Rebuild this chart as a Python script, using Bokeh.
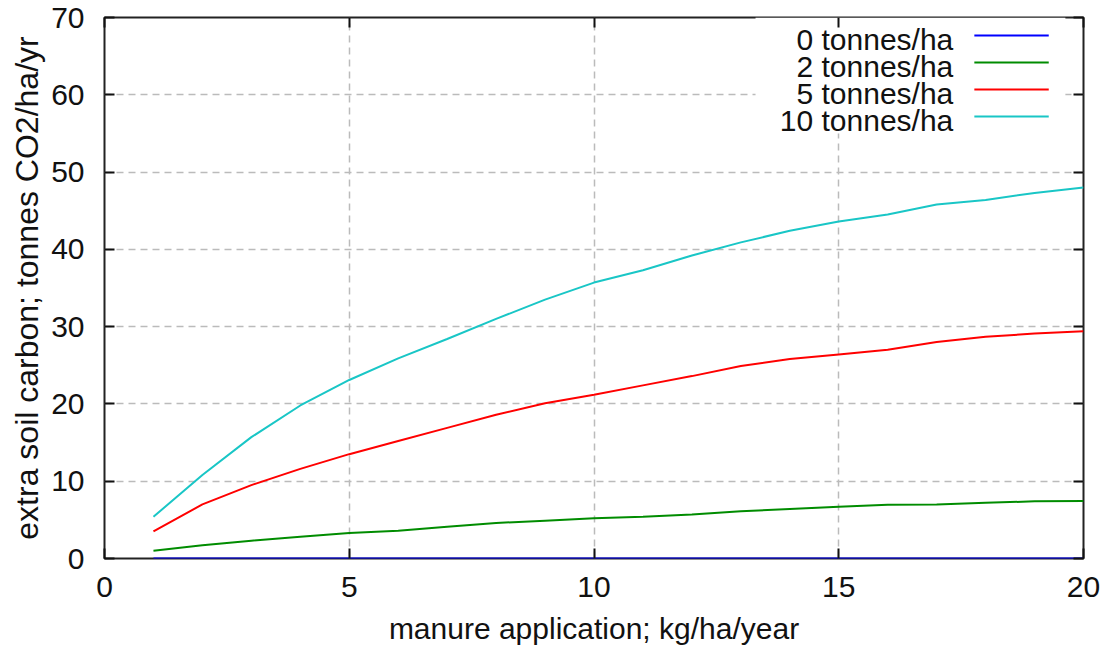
from bokeh.plotting import figure
from bokeh.models import Range1d, LinearAxis, FixedTicker
from bokeh.core.properties import value
from bokeh.embed import file_html
from bokeh.resources import INLINE

# ---- data ----
manure = [1, 2, 3, 4, 5, 6, 7, 8, 9, 10, 11, 12, 13, 14, 15, 16, 17, 18, 19, 20]
t0 = [0, 0, 0, 0, 0, 0, 0, 0, 0, 0, 0, 0, 0, 0, 0, 0, 0, 0, 0, 0]
t2 = [1.0, 1.7, 2.3, 2.8, 3.3, 3.6, 4.1, 4.6, 4.9, 5.2, 5.4, 5.7, 6.1, 6.4, 6.7, 6.95, 7.0, 7.2, 7.4, 7.45]
t5 = [3.5, 7.0, 9.5, 11.6, 13.5, 15.2, 16.9, 18.6, 20.1, 21.2, 22.4, 23.6, 24.9, 25.8, 26.4, 27.0, 28.0, 28.7, 29.1, 29.4]
t10 = [5.4, 10.8, 15.7, 19.8, 23.1, 25.9, 28.4, 31.0, 33.5, 35.7, 37.3, 39.2, 40.9, 42.4, 43.6, 44.5, 45.8, 46.4, 47.3, 48.0]
series_names = ["0 tonnes/ha", "2 tonnes/ha", "5 tonnes/ha", "10 tonnes/ha"]
series_values = [t0, t2, t5, t10]
colors = ["#0000ff", "#008c00", "#ff0000", "#19c6c6"]
x_ticks = [0, 5, 10, 15, 20]
y_ticks = [0, 10, 20, 30, 40, 50, 60, 70]

FONT = "Liberation Sans"
FS = "30px"

p = figure(width=1105, height=650, output_backend="svg", toolbar_location=None,
           x_range=Range1d(0, 20), y_range=Range1d(0, 70),
           min_border_left=104, min_border_right=22, min_border_top=17, min_border_bottom=92,
           x_axis_label="manure application; kg/ha/year",
           y_axis_label="extra soil carbon; tonnes CO2/ha/yr")
p.background_fill_color = "white"
p.border_fill_color = "white"
p.outline_line_color = "#222222"
p.outline_line_width = 2

for ax in (p.xaxis[0], p.yaxis[0]):
    ax.axis_line_color = None
    ax.major_tick_in = 10
    ax.major_tick_out = 0
    ax.major_tick_line_color = "#111111"
    ax.major_tick_line_width = 2
    ax.minor_tick_line_color = None
    ax.major_label_text_font = FONT
    ax.major_label_text_font_size = FS
    ax.major_label_text_color = "#111111"
    ax.axis_label_text_font = FONT
    ax.axis_label_text_font_size = FS
    ax.axis_label_text_font_style = "normal"
    ax.axis_label_text_color = "#111111"

p.yaxis[0].axis_label_text_font_size = "32px"
p.xaxis[0].ticker = FixedTicker(ticks=x_ticks)
p.yaxis[0].ticker = FixedTicker(ticks=y_ticks)
p.xaxis[0].major_label_standoff = 18
p.xaxis[0].axis_label_standoff = 12
p.yaxis[0].major_label_standoff = 20
p.yaxis[0].axis_label_standoff = 3

# mirrored inward ticks on top and right (no labels)
top = LinearAxis(ticker=FixedTicker(ticks=x_ticks),
                 major_label_overrides={t: "" for t in x_ticks})
right = LinearAxis(ticker=FixedTicker(ticks=y_ticks),
                   major_label_overrides={t: "" for t in y_ticks})
for ax in (top, right):
    ax.axis_line_color = None
    ax.major_tick_in = 10
    ax.major_tick_out = 0
    ax.major_tick_line_color = "#111111"
    ax.major_tick_line_width = 2
    ax.minor_tick_line_color = None
    ax.major_label_standoff = 0
p.add_layout(top, "above")
p.add_layout(right, "right")

for g in (p.xgrid[0], p.ygrid[0]):
    g.grid_line_color = "#bbbbbb"
    g.grid_line_dash = "7 5"
    g.grid_line_width = 1.5
p.xgrid[0].ticker = FixedTicker(ticks=x_ticks)
p.ygrid[0].ticker = FixedTicker(ticks=y_ticks)

# opaque key background (hides the grid behind the key)
p.quad(left=[13.3], right=[19.63], bottom=[55.0], top=[70], fill_color="white", line_color=None)

for vals, c in zip(series_values, colors):
    p.line(manure, vals, line_color=c, line_width=2)

# key: text right-aligned, sample line to the right (gnuplot style)
row_line_y = [67.66, 64.17, 60.67, 57.18]
for name, c, ly in zip(series_names, colors, row_line_y):
    p.text(x=[17.34], y=[ly - 0.5], text=[name], text_align="right", text_baseline="middle",
           text_font=value(FONT), text_font_size=FS, text_color="#111111")
    p.segment(x0=[17.77], y0=[ly], x1=[19.29], y1=[ly], line_color=c, line_width=2)

open("out.html", "w").write(file_html(p, INLINE))
